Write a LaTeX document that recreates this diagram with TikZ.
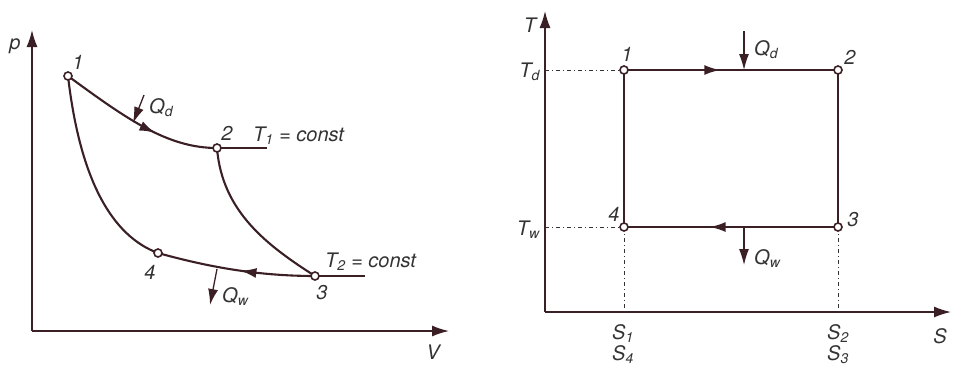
\documentclass[tikz,border=0pt]{standalone}
\usepackage{fontspec}
\setmainfont{TeX Gyre Heros}
\usetikzlibrary{arrows.meta,decorations.markings}
\definecolor{ink}{HTML}{3A1F25}
\definecolor{txt}{HTML}{333333}
\begin{document}
\begin{tikzpicture}[x=1pt,y=-1pt,
  font=\fontsize{20}{24}\selectfont\itshape,
  axis/.style={draw=ink, line width=1.5pt, -{Latex[length=17pt,width=11pt]}},
  curve/.style={draw=ink, line width=2.1pt},
  pt/.style={circle, draw=ink, fill=white, line width=1.6pt, inner sep=0pt, minimum size=8pt},
  lbl/.style={text=txt, inner sep=0pt},
  heat/.style={draw=ink, line width=1.3pt, -{Latex[length=16pt,width=10pt]}},
  guide/.style={draw=txt, line width=0.9pt, dash pattern=on 4pt off 3pt on 1pt off 3pt},
  midarrow/.style={postaction={decorate}, decoration={markings, mark=at position #1 with {\arrow{Latex[length=16pt,width=10pt]}}}}
]
\useasboundingbox (0,0) rectangle (953,365);
% ---------- left: p-V diagram ----------
\coordinate (O1) at (32,331);
\coordinate (pTop) at (32,30);
\coordinate (vEnd) at (449,331);
\draw[axis] (O1) -- (pTop);
\draw[axis] (O1) -- (vEnd);
\node[lbl] (pl) at (15,46) {p};
\node[lbl] (vl) at (433,352) {V};

\coordinate (a1) at (68,76);
\coordinate (a2) at (217,148);
\coordinate (a3) at (315,276);
\coordinate (a4) at (158,253);
\coordinate (t1end) at (267,148);
\coordinate (t2end) at (365,276);

\draw[curve, midarrow=0.62] (a1) .. controls (128,120) and (168,148) .. (a2);
\draw[curve] (a2) -- (t1end);
\draw[curve] (a2) .. controls (222,212) and (268,246) .. (a3);
\draw[curve] (a1) .. controls (80,180) and (112,236) .. (a4);
\draw[curve, midarrow=0.47] (a3) .. controls (255,276) and (205,266) .. (a4);
\draw[curve] (a3) -- (t2end);

\node[pt] (n1) at (a1) {};
\node[pt] (n2) at (a2) {};
\node[pt] (n3) at (a3) {};
\node[pt] (n4) at (a4) {};

\node[lbl] (l1) at (78,62) {1};
\node[lbl] (l2) at (227,133) {2};
\node[lbl] (l3) at (322,293) {3};
\node[lbl] (l4) at (150,272) {4};
\node[lbl, anchor=base west] (t1l) at (253,141) {T\textsubscript{1} = const};
\node[lbl, anchor=base west] (t2l) at (325,267) {T\textsubscript{2} = const};

\coordinate (qdA) at (144,95);
\coordinate (qdB) at (133,123);
\draw[heat] (qdA) -- (qdB);
\node[lbl, anchor=base west] (qdl) at (149,113) {Q\textsubscript{d}};
\coordinate (qwA) at (217,269);
\coordinate (qwB) at (210,305);
\draw[heat] (qwA) -- (qwB);
\node[lbl, anchor=base west] (qwl) at (222,302) {Q\textsubscript{w}};

% ---------- right: T-S diagram ----------
\coordinate (O2) at (545,312);
\coordinate (tTop) at (545,11);
\coordinate (sEnd) at (951,312);
\draw[axis] (O2) -- (tTop);
\draw[axis] (O2) -- (sEnd);
\node[lbl] (tl) at (530,25) {T};
\node[lbl] (sl) at (940,336) {S};

\coordinate (b1) at (624,70);
\coordinate (b2) at (838,70);
\coordinate (b3) at (838,227);
\coordinate (b4) at (624,227);
\coordinate (tdA) at (545,70);
\coordinate (twA) at (545,227);
\coordinate (s1A) at (624,312);
\coordinate (s2A) at (838,312);

\draw[guide] (tdA) -- (b1);
\draw[guide] (twA) -- (b4);
\draw[guide] (b4) -- (s1A);
\draw[guide] (b3) -- (s2A);

\draw[curve, midarrow=0.45] (b1) -- (b2);
\draw[curve] (b2) -- (b3);
\draw[curve, midarrow=0.6] (b3) -- (b4);
\draw[curve] (b4) -- (b1);

\node[pt] (m1) at (b1) {};
\node[pt] (m2) at (b2) {};
\node[pt] (m3) at (b3) {};
\node[pt] (m4) at (b4) {};

\node[lbl] (k1) at (627,54) {1};
\node[lbl] (k2) at (850,57) {2};
\node[lbl] (k3) at (853,220) {3};
\node[lbl] (k4) at (614,214) {4};

\node[lbl, anchor=base east] (tdl) at (540,77) {T\textsubscript{d}};
\node[lbl, anchor=base east] (twl) at (540,235) {T\textsubscript{w}};

\coordinate (qd2A) at (744,31);
\coordinate (qd2B) at (744,70);
\draw[heat] (qd2A) -- (qd2B);
\node[lbl, anchor=base west] (qd2l) at (754,55) {Q\textsubscript{d}};
\coordinate (qw2A) at (744,227);
\coordinate (qw2B) at (744,265);
\draw[heat] (qw2A) -- (qw2B);
\node[lbl, anchor=base west] (qw2l) at (754,264) {Q\textsubscript{w}};

\node[lbl, anchor=base] (s1l) at (623,339) {S\textsubscript{1}};
\node[lbl, anchor=base] (s4l) at (623,360) {S\textsubscript{4}};
\node[lbl, anchor=base] (s2l) at (838,339) {S\textsubscript{2}};
\node[lbl, anchor=base] (s3l) at (838,360) {S\textsubscript{3}};
\end{tikzpicture}
\end{document}
